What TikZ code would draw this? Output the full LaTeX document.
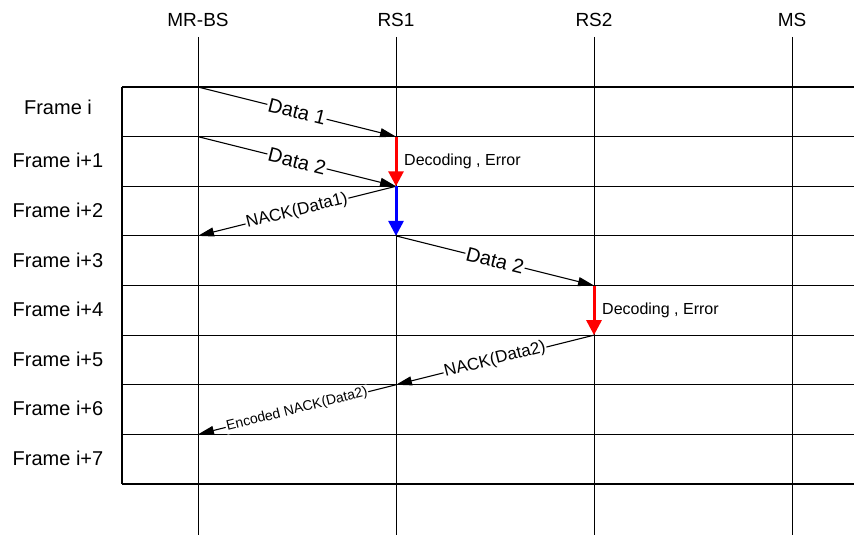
\documentclass[tikz,border=0pt]{standalone}
\usepackage{fontspec}
\setmainfont{Liberation Sans}
\usetikzlibrary{arrows.meta, positioning, calc}

\begin{document}
\begin{tikzpicture}[
    x=1pt, y=-1pt,
    grid/.style={line width=1.2pt},
    lifeline/.style={line width=1pt},
    head/.style={inner sep=0pt, font=\fontsize{19}{22}\selectfont},
    framelbl/.style={inner sep=0pt, font=\fontsize{20}{22}\selectfont},
    msg/.style={-{Triangle[length=16pt, width=9pt]}, line width=1.1pt},
    proc/.style={-{Triangle[length=15pt, width=15pt]}, line width=3pt},
    datalbl/.style={sloped, fill=white, inner sep=1pt, font=\fontsize{20}{22}\selectfont},
    acklbl/.style={sloped, fill=white, inner sep=1pt, font=\fontsize{17}{19}\selectfont},
    note/.style={anchor=west, inner sep=0pt, font=\fontsize{16}{18}\selectfont},
    ]
    \useasboundingbox (0,0) rectangle (854,535);

    % Stations (top) with life lines
    \node[head] (mrbs) at (198,20) {MR-BS};
    \node[head] (rs1)  at (396,20) {RS1};
    \node[head] (rs2)  at (594,20) {RS2};
    \node[head] (ms)   at (792,20) {MS};

    % Frame grid - row borders as coordinates on each life line
    \foreach \r in {0,...,8} {
        \coordinate (l\r) at (122,87+49.625*\r);
        \coordinate (e\r) at (854,87+49.625*\r);
        \coordinate (bs\r) at (198,87+49.625*\r);
        \coordinate (ra\r) at (396,87+49.625*\r);
        \coordinate (rb\r) at (594,87+49.625*\r);
        \draw[grid] (l\r) -- (e\r);
    }
    \draw[grid] (l0) -- (l8);

    \foreach \s in {mrbs, rs1, rs2, ms}
        \draw[lifeline] ($(\s)+(0,17)$) -- ($(\s)+(0,515)$);

    % Frame labels (left)
    \node[framelbl] (fr0) at (58,107) {Frame i};
    \foreach \r/\t in {1/i+1, 2/i+2, 3/i+3, 4/i+4, 5/i+5, 6/i+6, 7/i+7}
        \node[framelbl] (fr\r) at (58,111+49.625*\r) {Frame \t};

    % Messages
    \draw[msg] (bs0) -- node[datalbl] {Data 1} (ra1);
    \draw[msg] (bs1) -- node[datalbl] {Data 2} (ra2);
    \draw[proc, red] (ra1) -- (ra2);
    \node[note] (dec1) at ($(ra1)!0.5!(ra2)+(8,0)$) {Decoding , Error};
    \draw[msg] (ra2) -- node[acklbl] {NACK(Data1)} (bs3);
    \draw[proc, blue] (ra2) -- (ra3);
    \draw[msg] (ra3) -- node[datalbl] {Data 2} (rb4);
    \draw[proc, red] (rb4) -- (rb5);
    \node[note] (dec2) at ($(rb4)!0.5!(rb5)+(8,0)$) {Decoding , Error};
    \draw[msg] (rb5) -- node[acklbl] {NACK(Data2)} (ra6);
    \draw[msg] (ra6) -- node[acklbl, font=\fontsize{14}{16}\selectfont] {Encoded NACK(Data2)} (bs7);
\end{tikzpicture}
\end{document}
